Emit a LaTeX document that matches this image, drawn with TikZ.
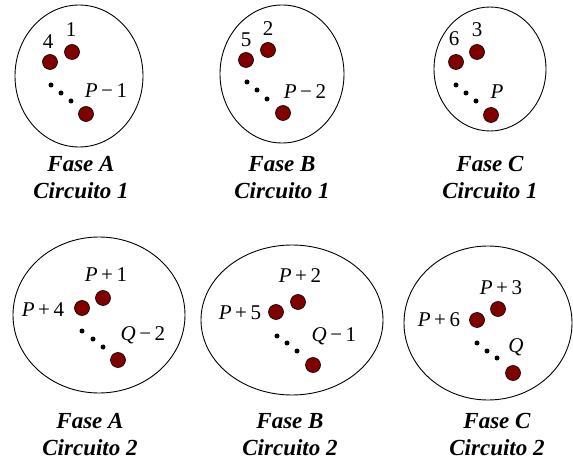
\documentclass[tikz,border=0pt]{standalone}
\usepackage{fontspec}
\setmainfont{Liberation Serif}[
  ItalicFont={Liberation Serif Italic},
  BoldFont={Liberation Serif Bold},
  BoldItalicFont={Liberation Serif Bold Italic}]
\definecolor{vinho}{RGB}{128,0,0}
\tikzset{
  condutor/.style={circle, fill=vinho, draw=black, line width=0.6pt, inner sep=0pt, minimum size=15pt},
  ponto/.style={circle, fill=black, inner sep=0pt, minimum size=5pt},
  rotulo/.style={font=\fontsize{21}{21}\selectfont, inner sep=0pt},
  legenda/.style={font=\fontsize{23}{27}\selectfont\bfseries\itshape, align=center, inner sep=0pt},
  contorno/.style={line width=0.9pt}
}
\newcommand{\Pv}{\textit{P}}
\newcommand{\Qv}{\textit{Q}}

\begin{document}
\begin{tikzpicture}[x=1pt, y=-1pt]

  \useasboundingbox (0,0) rectangle (573,462);

  % Fase A, circuito 1
  \draw[contorno] (79,76) ellipse [x radius=64, y radius=71];
  \node[condutor] (a1) at (72,52) {};
  \node[condutor] (a4) at (50,62) {};
  \node[condutor] (aP) at (86,114) {};
  \foreach \x/\y [count=\i] in {51/85, 61/93, 71/101}
    \node[ponto] (pa\i) at (\x,\y) {};
  \node[rotulo] (la4) at (48,42) {4};
  \node[rotulo] (la1) at (71,30) {1};
  \node[rotulo] (laP) at (106,91) {\Pv\,−\,1};
  \node[legenda] (ta1) at (81,178) {Fase A\\Circuito 1};

  % Fase B, circuito 1
  \draw[contorno] (282,74) ellipse [x radius=62, y radius=69];
  \node[condutor] (b2) at (268,50) {};
  \node[condutor] (b5) at (246,60) {};
  \node[condutor] (bP) at (283,113) {};
  \foreach \x/\y [count=\i] in {247/82, 257/90, 267/99}
    \node[ponto] (pb\i) at (\x,\y) {};
  \node[rotulo] (lb5) at (246,40) {5};
  \node[rotulo] (lb2) at (268,29) {2};
  \node[rotulo] (lbP) at (305,92) {\Pv\,−\,2};
  \node[legenda] (tb1) at (282,178) {Fase B\\Circuito 1};

  % Fase C, circuito 1
  \draw[contorno] (490,69) ellipse [x radius=56, y radius=62];
  \node[condutor] (c3) at (477,52) {};
  \node[condutor] (c6) at (456,62) {};
  \node[condutor] (cP) at (491,115) {};
  \foreach \x/\y [count=\i] in {456/85, 466/93, 476/101}
    \node[ponto] (pc\i) at (\x,\y) {};
  \node[rotulo] (lc6) at (454,39) {6};
  \node[rotulo] (lc3) at (477,30) {3};
  \node[rotulo] (lcP) at (497,92) {\Pv};
  \node[legenda] (tc1) at (490,178) {Fase C\\Circuito 1};

  % Fase A, circuito 2
  \draw[contorno] (99,315) ellipse [x radius=86, y radius=78];
  \node[condutor] (a11) at (103,298) {};
  \node[condutor] (a14) at (82,308) {};
  \node[condutor] (aQ) at (118,360) {};
  \foreach \x/\y [count=\i] in {82/331, 93/339, 103/347}
    \node[ponto] (qa\i) at (\x,\y) {};
  \node[rotulo] (la11) at (106,275) {\Pv\,+\,1};
  \node[rotulo] (la14) at (43,310) {\Pv\,+\,4};
  \node[rotulo] (laQ) at (143,335) {\Qv\,−\,2};
  \node[legenda] (ta2) at (90,435) {Fase A\\Circuito 2};

  % Fase B, circuito 2
  \draw[contorno] (292,320) ellipse [x radius=91, y radius=75];
  \node[condutor] (b12) at (298,302) {};
  \node[condutor] (b15) at (276,312) {};
  \node[condutor] (bQ) at (313,365) {};
  \foreach \x/\y [count=\i] in {277/336, 287/343, 297/351}
    \node[ponto] (qb\i) at (\x,\y) {};
  \node[rotulo] (lb12) at (300,276) {\Pv\,+\,2};
  \node[rotulo] (lb15) at (240,313) {\Pv\,+\,5};
  \node[rotulo] (lbQ) at (334,336) {\Qv\,−\,1};
  \node[legenda] (tb2) at (290,435) {Fase B\\Circuito 2};

  % Fase C, circuito 2
  \draw[contorno] (488,323) ellipse [x radius=84, y radius=77];
  \node[condutor] (c13) at (498,309) {};
  \node[condutor] (c16) at (477,320) {};
  \node[condutor] (cQ) at (513,373) {};
  \foreach \x/\y [count=\i] in {477/343, 487/351, 497/358}
    \node[ponto] (qc\i) at (\x,\y) {};
  \node[rotulo] (lc13) at (501,288) {\Pv\,+\,3};
  \node[rotulo] (lc16) at (439,320) {\Pv\,+\,6};
  \node[rotulo] (lcQ) at (516,347) {\Qv};
  \node[legenda] (tc2) at (497,435) {Fase C\\Circuito 2};

\end{tikzpicture}
\end{document}
